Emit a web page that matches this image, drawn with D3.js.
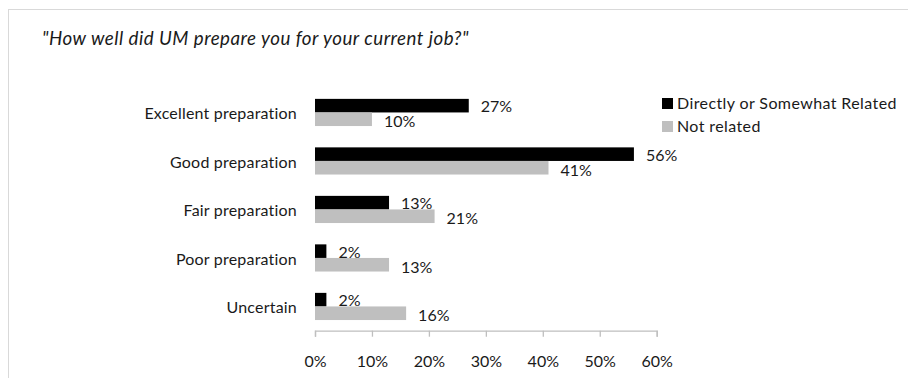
<!DOCTYPE html>
<html>
<head>
<meta charset="utf-8">
<script src="https://cdn.jsdelivr.net/npm/d3@7"></script>
<style>
  html, body { margin: 0; padding: 0; background: #fff; }
  svg { display: block; }
  text { font-family: "Lato", "Open Sans", sans-serif; fill: #1a1a1a; }
</style>
</head>
<body>
<svg id="chart" width="908" height="378"></svg>
<script>
// Survey answers: share of respondents per preparation rating
const categories = ["Excellent preparation", "Good preparation", "Fair preparation", "Poor preparation", "Uncertain"];
const seriesNames = ["Directly or Somewhat Related", "Not related"];
const relatedValues = [0.27, 0.56, 0.13, 0.02, 0.02];
const notRelatedValues = [0.10, 0.41, 0.21, 0.13, 0.16];
const tickValues = [0, 0.1, 0.2, 0.3, 0.4, 0.5, 0.6];
const titleText = "\"How well did UM prepare you for your current job?\"";

const seriesColors = { "Directly or Somewhat Related": "#000000", "Not related": "#bfbfbf" };
const seriesValues = { "Directly or Somewhat Related": relatedValues, "Not related": notRelatedValues };

const svg = d3.select("#chart");
const fontSize = 16;

// outer frame of the chart
svg.append("rect")
  .attr("x", 8.5).attr("y", 9.5)
  .attr("width", 910).attr("height", 380)
  .attr("fill", "none").attr("stroke", "#d9d9d9").attr("stroke-width", 1);

// title
svg.append("text")
  .attr("x", 42).attr("y", 44.5)
  .style("font-style", "italic")
  .style("font-size", "18.7px")
  .style("letter-spacing", "0.5px")
  .text(titleText);

const x = d3.scaleLinear().domain([0, 0.6]).range([315, 656.7]);
const y = d3.scaleBand().domain(categories).range([88.2, 330.7])
  .paddingInner(0.44).paddingOuter(0.22);
const ySub = d3.scaleBand().domain(seriesNames).range([0, y.bandwidth()]);

// x axis
const axisG = svg.append("g")
  .attr("transform", "translate(0,330.7)")
  .call(d3.axisBottom(x).tickValues(tickValues).tickFormat(d3.format(".0%")).tickSize(6).tickPadding(18.6));
axisG.select(".domain").attr("stroke", "#bfbfbf").attr("stroke-width", 1.3);
axisG.selectAll(".tick line").attr("stroke", "#bfbfbf").attr("stroke-width", 1.3);
axisG.selectAll(".tick text")
  .style("font-size", fontSize + "px")
  .style("font-family", "Lato, 'Open Sans', sans-serif")
  .attr("fill", "#1a1a1a");

// category labels
svg.append("g").selectAll("text")
  .data(categories)
  .join("text")
  .attr("x", 297)
  .attr("y", d => y(d) + y.bandwidth() / 2 + 6.6)
  .attr("text-anchor", "end")
  .style("font-size", fontSize + "px")
  .style("letter-spacing", "0.2px")
  .text(d => d);

// bars for both series first, value labels on top
const fmt = d3.format(".0%");
const labelOffset = { "Directly or Somewhat Related": 6.5, "Not related": 7.8 };
const barsG = svg.append("g");
const labelsG = svg.append("g");
seriesNames.forEach(name => {
  const vals = seriesValues[name];
  barsG.append("g").selectAll("rect")
    .data(categories)
    .join("rect")
    .attr("x", x(0))
    .attr("y", d => y(d) + ySub(name))
    .attr("width", (d, i) => x(vals[i]) - x(0))
    .attr("height", ySub.bandwidth())
    .attr("fill", seriesColors[name]);
  labelsG.append("g").selectAll("text")
    .data(categories)
    .join("text")
    .attr("x", (d, i) => x(vals[i]) + 12)
    .attr("y", d => y(d) + ySub(name) + ySub.bandwidth() / 2 + labelOffset[name])
    .style("font-size", fontSize + "px")
    .text((d, i) => fmt(vals[i]));
});

// legend
const legend = svg.append("g").attr("transform", "translate(662,98)");
seriesNames.forEach((name, i) => {
  const row = legend.append("g").attr("transform", `translate(0,${i * 23})`);
  row.append("rect").attr("width", 11).attr("height", 11).attr("fill", seriesColors[name]);
  row.append("text")
    .attr("x", 15).attr("y", 11.3)
    .style("font-size", fontSize + "px")
    .style("letter-spacing", "0.4px")
    .text(name);
});
</script>
</body>
</html>
